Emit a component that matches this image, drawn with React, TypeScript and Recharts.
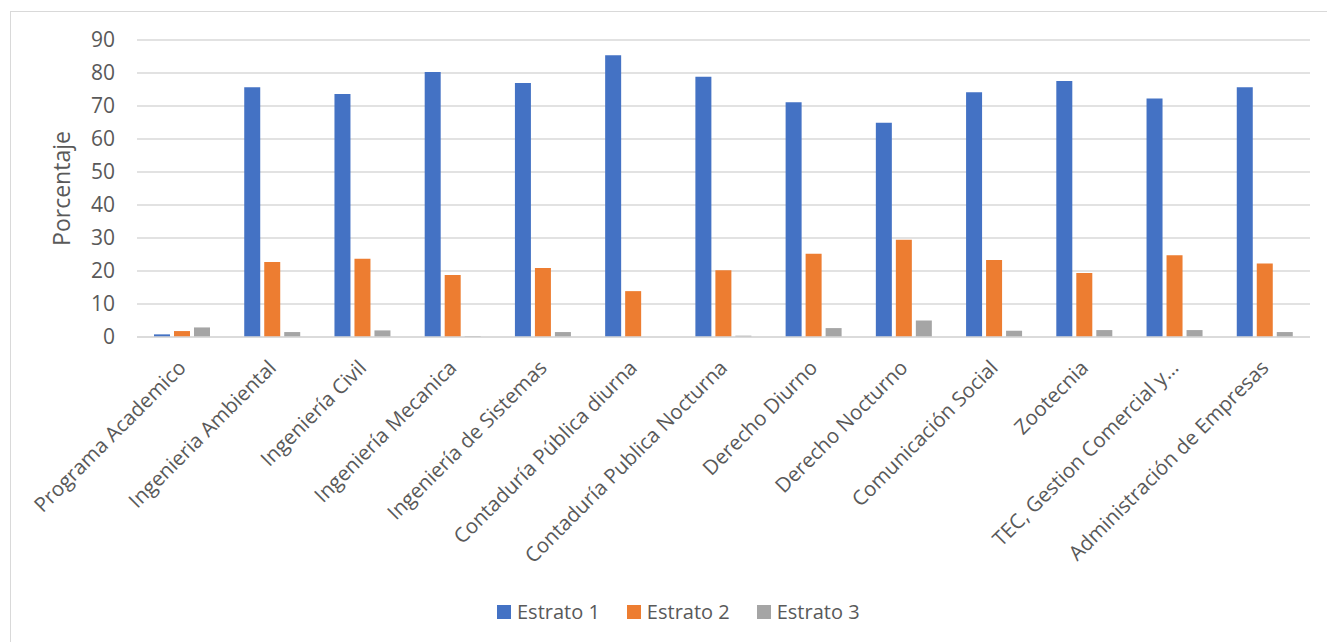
import { BarChart, Bar, XAxis, YAxis, CartesianGrid } from 'recharts';

const programas = [
  'Programa Academico',
  'Ingenieria Ambiental',
  'Ingeniería Civil',
  'Ingeniería Mecanica',
  'Ingeniería de Sistemas',
  'Contaduría Pública diurna',
  'Contaduría Publica Nocturna',
  'Derecho Diurno',
  'Derecho Nocturno',
  'Comunicación Social',
  'Zootecnia',
  'TEC, Gestion Comercial y…',
  'Administración de Empresas',
];

const estrato1 = [0.8, 75.7, 73.6, 80.3, 77.0, 85.4, 78.9, 71.1, 64.9, 74.2, 77.6, 72.3, 75.7];
const estrato2 = [1.8, 22.7, 23.7, 18.8, 20.9, 13.9, 20.2, 25.2, 29.5, 23.3, 19.4, 24.8, 22.3];
const estrato3 = [2.9, 1.5, 2.0, 0.3, 1.5, 0, 0.4, 2.7, 5.0, 1.9, 2.1, 2.1, 1.5];

const yTicks = [0, 10, 20, 30, 40, 50, 60, 70, 80, 90];

const series = [
  { key: 'e1', name: 'Estrato 1', color: '#4472C4' },
  { key: 'e2', name: 'Estrato 2', color: '#ED7D31' },
  { key: 'e3', name: 'Estrato 3', color: '#A5A5A5' },
];

const data = programas.map((p, i) => ({
  programa: p,
  e1: estrato1[i],
  e2: estrato2[i],
  e3: estrato3[i],
}));

const FONT = '"Open Sans", "Noto Sans", sans-serif';
const TEXT = '#595959';

function XTick(props: any) {
  const { x, y, payload } = props;
  return (
    <g transform={`translate(${x},${y})`}>
      <text
        x={0}
        y={0}
        dy="0.35em"
        textAnchor="end"
        transform="rotate(-45)"
        fill={TEXT}
        fontSize={20.5}
        fontFamily={FONT}
      >
        {payload.value}
      </text>
    </g>
  );
}

export default function App() {
  return (
    <div
      style={{
        position: 'absolute',
        left: 0,
        top: 0,
        width: 1327,
        height: 642,
        overflow: 'hidden',
        background: '#fff',
        fontFamily: FONT,
      }}
    >
      <div
        style={{
          position: 'absolute',
          left: 10,
          top: 11,
          width: 1340,
          height: 660,
          border: '1.5px solid #d9d9d9',
        }}
      />
      <BarChart
        width={1327}
        height={642}
        data={data}
        margin={{ top: 40, right: 17, left: 37, bottom: 155 }}
        barSize={16}
        barGap={4}
        style={{ position: 'absolute', left: 0, top: 0 }}
      >
        <CartesianGrid vertical={false} stroke="#d9d9d9" strokeWidth={1.5} />
        <XAxis
          dataKey="programa"
          interval={0}
          height={150}
          tickLine={false}
          tickSize={0}
          tickMargin={27}
          axisLine={{ stroke: '#d9d9d9', strokeWidth: 1.5 }}
          tick={<XTick />}
        />
        <YAxis
          width={100}
          domain={[0, 90]}
          ticks={yTicks}
          interval={0}
          axisLine={false}
          tickLine={false}
          tickSize={0}
          tickMargin={22}
          tick={{ fill: TEXT, fontSize: 21, fontFamily: FONT }}
          label={{
            value: 'Porcentaje',
            angle: -90,
            position: 'insideLeft',
            offset: 25,
            style: { fill: TEXT, fontSize: 23, fontFamily: FONT, textAnchor: 'middle' },
          }}
        />
        {series.map((s) => (
          <Bar key={s.key} dataKey={s.key} name={s.name} fill={s.color} isAnimationActive={false} />
        ))}
      </BarChart>
      <div
        style={{
          position: 'absolute',
          left: 497,
          top: 598,
          display: 'flex',
          alignItems: 'center',
          gap: 27,
          color: TEXT,
          fontSize: 20,
          whiteSpace: 'nowrap',
        }}
      >
        {series.map((s) => (
          <div key={s.key} style={{ display: 'flex', alignItems: 'center', gap: 6 }}>
            <span style={{ width: 14, height: 14, background: s.color, display: 'inline-block' }} />
            <span>{s.name}</span>
          </div>
        ))}
      </div>
    </div>
  );
}
